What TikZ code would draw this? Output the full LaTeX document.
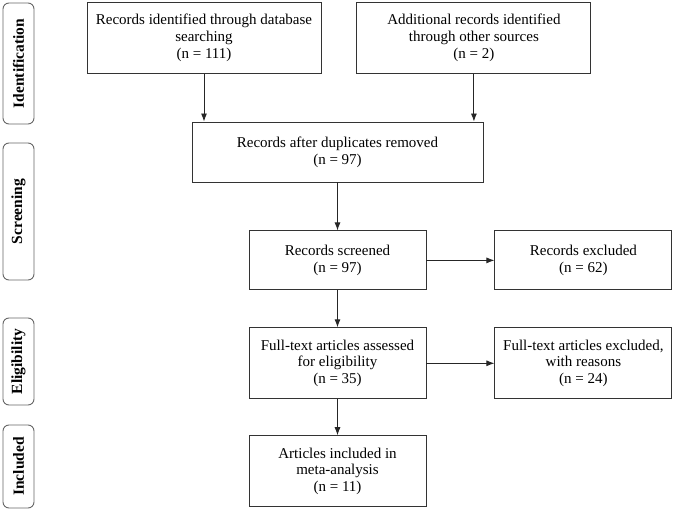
\documentclass[tikz,border=0pt]{standalone}
\usepackage{fontspec}
\setmainfont{Liberation Serif}
\usetikzlibrary{arrows.meta, positioning}
\tikzset{
    flowbox/.style={rectangle, draw=black!80, line width=0.9pt, align=center, font=\fontsize{15}{16.7}\selectfont, inner sep=2pt},
    phasebox/.style={rectangle, rounded corners=6pt, draw=black!60, line width=0.9pt, rotate=90, minimum height=31pt, font=\fontsize{15.5}{16}\selectfont\bfseries},
    arrow/.style={-{Latex[length=8pt,width=6pt]}, line width=0.9pt, black!85},
}
\begin{document}
\begin{tikzpicture}[
  wide/.style={flowbox,minimum width=234pt,minimum height=71pt},
  mid/.style={flowbox,minimum width=177pt,minimum height=59pt},
  tall/.style={flowbox,minimum width=177pt,minimum height=71pt}
]
\useasboundingbox (0,0) rectangle (675pt,-510pt);

% Phase labels
\node[phasebox,minimum width=121pt] (ident) at (18.5pt,-63.5pt) {Identification};
\node[phasebox,minimum width=137pt] (screen) at (18.5pt,-211.5pt) {Screening};
\node[phasebox,minimum width=87pt] (elig) at (18.5pt,-361.5pt) {Eligibility};
\node[phasebox,minimum width=83pt] (incl) at (18.5pt,-466.5pt) {Included};

% Identification
\node[wide] (db) at (204pt,-38pt) {Records identified through database\\searching\\(n = 111)};
\node[wide,right=35pt of db] (other) {Additional records identified\\through other sources\\(n = 2)};

% Screening
\node[flowbox,minimum width=291pt,minimum height=60pt] (dup) at (337.5pt,-152pt) {Records after duplicates removed\\(n = 97)};
\node[mid,below=48pt of dup] (scr) {Records screened\\(n = 97)};
\node[mid,right=68pt of scr] (exc) {Records excluded\\(n = 62)};

% Eligibility
\node[tall,below=37pt of scr] (full) {Full-text articles assessed\\for eligibility\\(n = 35)};
\node[tall,right=68pt of full] (fexc) {Full-text articles excluded,\\with reasons\\(n = 24)};

% Included
\node[tall,below=36pt of full] (meta) {Articles included in\\meta-analysis\\(n = 11)};

% Arrows
\draw[arrow] (db.south) -- (db.south |- dup.north);
\draw[arrow] (other.south) -- (other.south |- dup.north);
\draw[arrow] (dup) -- (scr);
\draw[arrow] (scr) -- (exc);
\draw[arrow] (scr) -- (full);
\draw[arrow] (full) -- (fexc);
\draw[arrow] (full) -- (meta);
\end{tikzpicture}
\end{document}
